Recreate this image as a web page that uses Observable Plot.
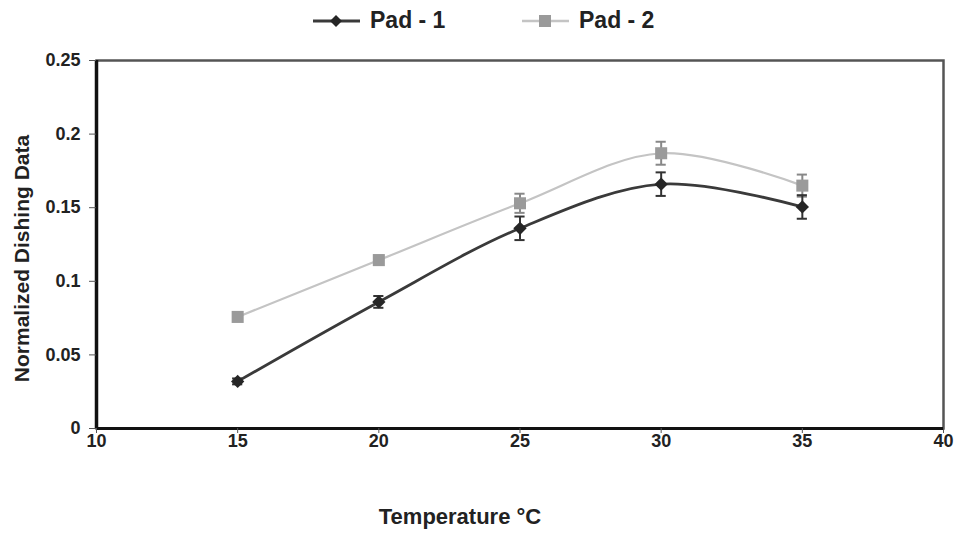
<!DOCTYPE html>
<html><head><meta charset="utf-8">
<script src="https://cdn.jsdelivr.net/npm/d3@7"></script>
<script src="https://cdn.jsdelivr.net/npm/@observablehq/plot@0.6"></script>
<style>
body{margin:0;background:#fff;font-family:"Liberation Sans",Arial,sans-serif;}
#wrap{position:relative;width:959px;height:533px;overflow:hidden;}
#legend{position:relative;height:42px;width:959px;}
.item{position:absolute;top:7px;display:flex;align-items:center;font-weight:bold;font-size:23px;color:#222;}
.item svg{margin-right:9px;}
</style></head><body>
<div id="wrap"><div id="legend"></div><div id="chart"></div></div>
<script>
const temperatures = [15, 20, 25, 30, 35];
const pad1 = [0.032, 0.086, 0.136, 0.166, 0.1505];
const pad1Err = [0.002, 0.004, 0.008, 0.008, 0.008];
const pad2 = [0.0758, 0.1144, 0.153, 0.187, 0.165];
const pad2Err = [0.002, 0.003, 0.0065, 0.0078, 0.0075];
const seriesNames = ["Pad - 1", "Pad - 2"];
const xTicks = [10, 15, 20, 25, 30, 35, 40];
const yTicks = [0, 0.05, 0.1, 0.15, 0.2, 0.25];
const yTickLabels = ["0", "0.05", "0.1", "0.15", "0.2", "0.25"];
const xLabel = "Temperature °C";
const yLabel = "Normalized Dishing Data";

const lineColors = ["#3a3a3a", "#c4c4c4"];
const markColors = ["#262626", "#9a9a9a"];

const rows1 = temperatures.map((t, i) => ({t, v: pad1[i], e: pad1Err[i]}));
const rows2 = temperatures.map((t, i) => ({t, v: pad2[i], e: pad2Err[i]}));

// legend
const legend = document.getElementById("legend");
const legendX = [311, 520];
seriesNames.forEach((name, i) => {
  const div = document.createElement("div");
  div.className = "item";
  div.style.left = legendX[i] + "px";
  const marker = i === 0
    ? `<path d="M25,6 L31,12 L25,18 L19,12 Z" fill="${markColors[0]}"/>`
    : `<rect x="19" y="6" width="12" height="12" fill="${markColors[1]}"/>`;
  div.innerHTML = `<svg width="50" height="24"><line x1="2" x2="49" y1="12" y2="12" stroke="${lineColors[i]}" stroke-width="${i===0?3:2.5}"/>${marker}</svg><span>${name}</span>`;
  legend.appendChild(div);
});

const ff = "Liberation Sans, Arial, sans-serif";

const chart = Plot.plot({
  width: 959,
  height: 491,
  marginLeft: 96,
  marginRight: 16,
  marginTop: 18,
  marginBottom: 105,
  style: {fontFamily: ff, fontWeight: "bold", fontSize: "18px", color: "#222", background: "#fff"},
  x: {domain: [10, 40]},
  y: {domain: [0, 0.25]},
  marks: [
    Plot.frame({stroke: "#555", strokeWidth: 2.5}),
    Plot.ruleX([10], {stroke: "#111", strokeWidth: 3.5}),
    Plot.ruleY([0], {stroke: "#111", strokeWidth: 3}),
    Plot.axisX({ticks: xTicks, tickSize: 5, tickPadding: 1, stroke: "#555", label: null, fontSize: 18, fontWeight: "bold"}),
    Plot.axisY({ticks: yTicks, tickFormat: d => yTickLabels[yTicks.indexOf(d)], tickSize: 7, tickPadding: 9, stroke: "#555", label: null, fontSize: 18, fontWeight: "bold"}),
    Plot.text([xLabel], {frameAnchor: "bottom", dx: -60, dy: 95, fontSize: 22, fontWeight: "bold", fill: "#222"}),
    Plot.text([yLabel], {frameAnchor: "left", textAnchor: "middle", rotate: -90, dx: -74, dy: 14, fontSize: 21, fontWeight: "bold", fill: "#222"}),
    Plot.line(rows2, {x: "t", y: "v", curve: "catmull-rom", stroke: lineColors[1], strokeWidth: 2.2}),
    Plot.line(rows1, {x: "t", y: "v", curve: "catmull-rom", stroke: lineColors[0], strokeWidth: 2.8}),
    Plot.ruleX(rows2, {x: "t", y1: d => d.v - d.e, y2: d => d.v + d.e, stroke: "#888", strokeWidth: 2}),
    Plot.ruleY(rows2, {y: d => d.v - d.e, x1: d => d.t - 0.18, x2: d => d.t + 0.18, stroke: "#888", strokeWidth: 2}),
    Plot.ruleY(rows2, {y: d => d.v + d.e, x1: d => d.t - 0.18, x2: d => d.t + 0.18, stroke: "#888", strokeWidth: 2}),
    Plot.dot(rows2, {x: "t", y: "v", symbol: "square", r: 6.8, fill: markColors[1]}),
    Plot.ruleX(rows1, {x: "t", y1: d => d.v - d.e, y2: d => d.v + d.e, stroke: "#333", strokeWidth: 2}),
    Plot.ruleY(rows1, {y: d => d.v - d.e, x1: d => d.t - 0.18, x2: d => d.t + 0.18, stroke: "#333", strokeWidth: 2}),
    Plot.ruleY(rows1, {y: d => d.v + d.e, x1: d => d.t - 0.18, x2: d => d.t + 0.18, stroke: "#333", strokeWidth: 2}),
    Plot.dot(rows1, {x: "t", y: "v", symbol: "diamond2", r: 6, fill: markColors[0], stroke: "none"})
  ]
});
document.getElementById("chart").appendChild(chart);
</script>
</body></html>
